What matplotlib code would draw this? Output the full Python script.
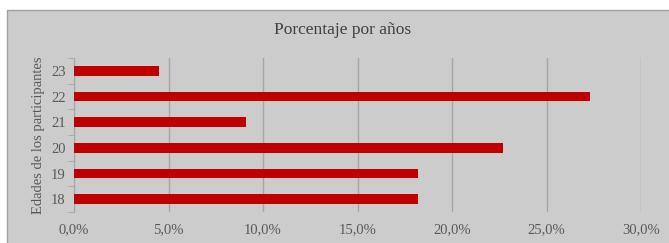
import matplotlib.pyplot as plt
from matplotlib.patches import Rectangle
from matplotlib.ticker import FuncFormatter, FixedLocator

# --- Data ---
edades = ['18', '19', '20', '21', '22', '23']
porcentajes = [18.2, 18.2, 22.7, 9.1, 27.3, 4.5]
xticks = [0, 5, 10, 15, 20, 25, 30]

plt.rcParams['font.family'] = ['Liberation Serif', 'DejaVu Serif']

fig = plt.figure(figsize=(6.69, 2.43), dpi=100)
fig.patch.set_facecolor('white')

# grey chart area with a thin border
fig.add_artist(Rectangle((7 / 669, -0.05), 1.0, 233 / 243 + 0.05, transform=fig.transFigure,
                         facecolor='#cccccc', edgecolor='#a0a0a0', linewidth=1, zorder=-10))

ax = fig.add_axes([74 / 669, 1 - 212 / 243, 567 / 669, 154 / 243])
ax.set_facecolor('none')

y = list(range(len(edades)))
ax.barh(y, porcentajes, height=0.38, color='#c00000', zorder=3)

ax.set_xlim(0, 30)
ax.set_ylim(-0.5, len(edades) - 0.5)
ax.set_xticks(xticks)
ax.xaxis.set_major_formatter(FuncFormatter(lambda v, p: f'{v:.1f}%'.replace('.', ',')))
ax.set_yticks(y)
ax.set_yticklabels(edades)
ax.yaxis.set_minor_locator(FixedLocator([i - 0.5 for i in range(len(edades) + 1)]))

ax.grid(axis='x', color='#a6a6a6', linewidth=1, zorder=0)
for s in ['top', 'right', 'bottom']:
    ax.spines[s].set_visible(False)
ax.spines['left'].set_color('#a6a6a6')

ax.tick_params(axis='x', length=0, labelsize=10.5, labelcolor='#595959', pad=8)
ax.tick_params(axis='y', which='major', length=0, labelsize=10.5, labelcolor='#595959', pad=6)
ax.tick_params(axis='y', which='minor', length=4, color='#a6a6a6')

ax.set_ylabel('Edades de los participantes', fontsize=10.5, color='#595959', labelpad=4)
fig.text(343 / 669, 1 - 30 / 243, 'Porcentaje por años', ha='center', va='center',
         fontsize=12.5, color='#404040')

fig.savefig('out.png', dpi=100)
